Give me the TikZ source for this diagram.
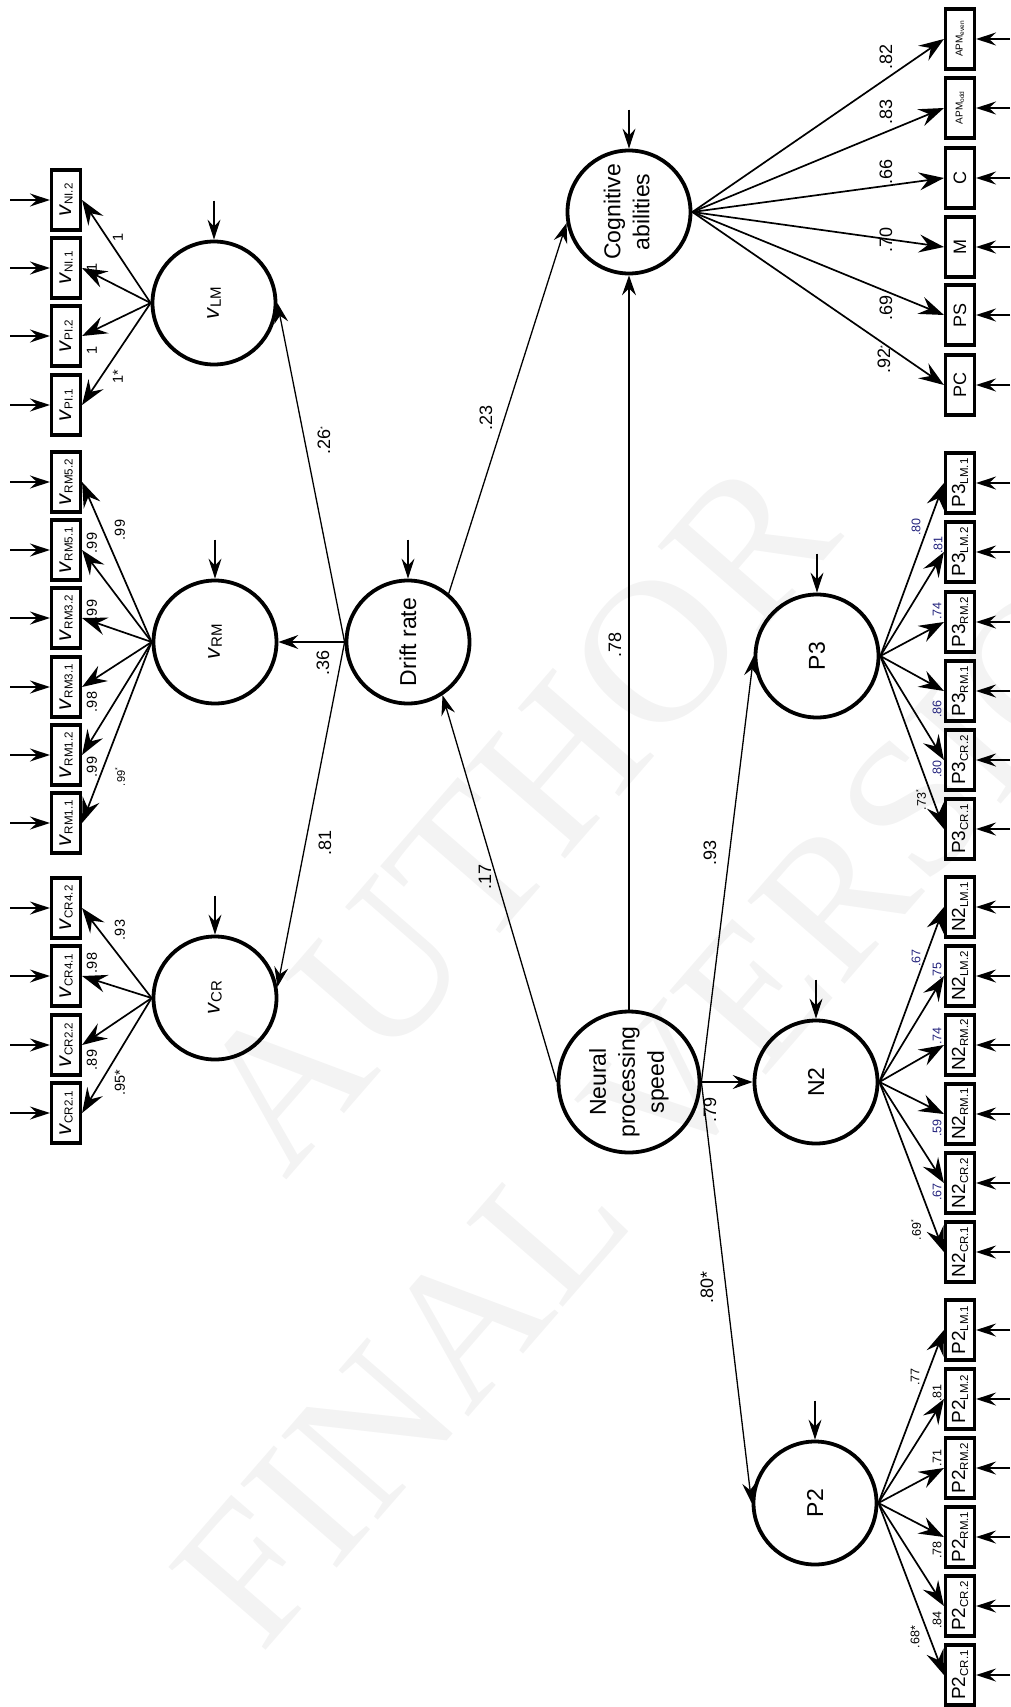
\documentclass[tikz,border=0pt]{standalone}
\usepackage{fontspec}
\setmainfont{Liberation Sans}
\newfontfamily\markfont{Liberation Serif}
\usepackage{graphicx}
\usetikzlibrary{arrows.meta}

\newcommand{\fsz}[1]{\fontsize{#1}{#1}\selectfont}
% drift-rate indicator: italic v with subscript
\newcommand{\vlab}[1]{\fsz{22}\textit{v}\raisebox{-1.5pt}{\fsz{11.6}#1}}
% ERP indicator: component name with subscript
\newcommand{\elab}[2]{\fsz{19}#1\raisebox{-3pt}{\fsz{11.5}#2}}
\newcommand{\sstar}{\raisebox{5pt}{\fsz{7}*}}

\definecolor{loadblue}{RGB}{35,35,125}
\definecolor{markgray}{RGB}{243,243,243}

\tikzset{
  latent/.style={circle, draw, line width=3.8pt, minimum size=123pt, inner sep=0pt},
  obs/.style={rectangle, draw, line width=3.1pt, minimum width=29pt, minimum height=60pt, inner sep=0pt},
  loading/.style={line width=1.7pt, -{Stealth[length=25pt,width=18pt,inset=9pt]}},
  regress/.style={line width=1.3pt, -{Stealth[length=20pt,width=14pt,inset=7pt]}},
  resid/.style={line width=1.4pt, -{Stealth[length=20pt,width=13pt,inset=7pt]}},
  coef/.style={rotate=90, inner sep=0pt},
}

\begin{document}
\begin{tikzpicture}[x=1pt,y=-1pt]
\useasboundingbox (0,0) rectangle (1010,1707);

% watermark
\node[text=markgray, rotate=49, font=\markfont\fsz{205}] (wmA) at (515,815) {AUTHOR};
\node[text=markgray, rotate=49, font=\markfont\fsz{195}] (wmB) at (695,1060) {FINAL VERSION};

% latent variables
\node[latent] (vlm) at (214,303) {\rotatebox{90}{\fsz{22}\textit{v}\raisebox{-2pt}{\fsz{15}LM}}};
\node[latent] (vrm) at (215,642) {\rotatebox{90}{\fsz{22}\textit{v}\raisebox{-2pt}{\fsz{15}RM}}};
\node[latent] (vcr) at (215,998) {\rotatebox{90}{\fsz{22}\textit{v}\raisebox{-2pt}{\fsz{15}CR}}};
\node[latent] (drift) at (408,642) {\rotatebox{90}{\fsz{23}Drift rate}};
\node[latent] (cog) at (629,212) {\rotatebox{90}{\fontsize{23}{29}\selectfont\begin{tabular}{@{}c@{}}Cognitive\\abilities\end{tabular}}};
\node[latent] (nps) at (629,1082) {\rotatebox{90}{\fontsize{23}{29}\selectfont\begin{tabular}{@{}c@{}}Neural\\processing\\speed\end{tabular}}};
\node[latent] (p3) at (817,656) {\rotatebox{90}{\fsz{23}P3}};
\node[latent] (n2) at (816,1082) {\rotatebox{90}{\fsz{23}N2}};
\node[latent] (p2) at (815,1503) {\rotatebox{90}{\fsz{23}P2}};

% residuals of the latent variables
\foreach \n in {vlm,vrm,vcr,drift,cog,p3,n2,p2}{
  \coordinate (\n r) at ([yshift=39pt]\n.north);
  \draw[resid] (\n r) -- (\n.north);
}

% drift-rate indicators
\foreach \n/\y/\t in {nl2/200/NI.2, nl1/268/NI.1, pl2/336/PI.2, pl1/405/PI.1,
  rm52/482/RM5.2, rm51/550/RM5.1, rm32/618/RM3.2, rm31/687/RM3.1, rm12/755/RM1.2, rm11/823/RM1.1,
  cr42/908/CR4.2, cr41/976/CR4.1, cr22/1045/CR2.2, cr21/1113/CR2.1}{
  \node[obs] (\n) at (66,\y) {\rotatebox{90}{\vlab{\t}}};
  \coordinate (\n r) at (10,\y);
  \draw[resid] (\n r) -- (\n.west);
}

% cognitive and ERP indicators
\foreach \n/\y/\t in {
  apme/39/{\fsz{10}APM\raisebox{-1.5pt}{\fsz{6.5}even}}, apmo/108/{\fsz{10}APM\raisebox{-1.5pt}{\fsz{6.5}odd}},
  cc/178/{\fsz{18}C}, mm/247/{\fsz{18}M}, ps/315/{\fsz{18}PS}, pc/385/{\fsz{18}PC},
  pthl1/483/{\elab{P3}{LM.1}}, pthl2/552/{\elab{P3}{LM.2}}, pthr2/622/{\elab{P3}{RM.2}},
  pthr1/691/{\elab{P3}{RM.1}}, pthc2/760/{\elab{P3}{CR.2}}, pthc1/829/{\elab{P3}{CR.1}},
  ntl1/907/{\elab{N2}{LM.1}}, ntl2/976/{\elab{N2}{LM.2}}, ntr2/1045/{\elab{N2}{RM.2}},
  ntr1/1114/{\elab{N2}{RM.1}}, ntc2/1183/{\elab{N2}{CR.2}}, ntc1/1252/{\elab{N2}{CR.1}},
  ptl1/1330/{\elab{P2}{LM.1}}, ptl2/1399/{\elab{P2}{LM.2}}, ptr2/1468/{\elab{P2}{RM.2}},
  ptr1/1537/{\elab{P2}{RM.1}}, ptc2/1606/{\elab{P2}{CR.2}}, ptc1/1675/{\elab{P2}{CR.1}}}{
  \node[obs] (\n) at (960,\y) {\rotatebox{90}{\t}};
  \coordinate (\n r) at (1010,\y);
  \draw[resid] (\n r) -- (\n.east);
}

% factor loadings
\foreach \n in {nl2,nl1,pl2,pl1} \draw[loading] (vlm.west) -- (\n.east);
\foreach \n in {rm52,rm51,rm32,rm31,rm12,rm11} \draw[loading] (vrm.west) -- (\n.east);
\foreach \n in {cr42,cr41,cr22,cr21} \draw[loading] (vcr.west) -- (\n.east);
\foreach \n in {apme,apmo,cc,mm,ps,pc} \draw[loading] (cog.east) -- (\n.west);
\foreach \n in {pthl1,pthl2,pthr2,pthr1,pthc2,pthc1} \draw[loading] (p3.east) -- (\n.west);
\foreach \n in {ntl1,ntl2,ntr2,ntr1,ntc2,ntc1} \draw[loading] (n2.east) -- (\n.west);
\foreach \n in {ptl1,ptl2,ptr2,ptr1,ptc2,ptc1} \draw[loading] (p2.east) -- (\n.west);

% structural paths
\draw[regress] (drift.west) -- (vlm.east);
\draw[regress] (drift.west) -- (vrm.east);
\draw[regress] (drift.west) -- (vcr.10);
\draw[regress] (drift.50) -- (cog.190);
\draw[regress] (nps.west) -- (drift.-57);
\draw[regress] (nps.north) -- (cog.south);
\draw[regress] (nps.east) -- (p3.west);
\draw[regress] (nps.east) -- (n2.west);
\draw[regress] (nps.east) -- (p2.west);

% path coefficients
\foreach \x/\y/\t [count=\i] in {324/441/{.26\sstar}, 323/663/.36, 325/843/.81, 485/877/.17,
  486/418/.23, 615/645/.78, 710/853/.93, 710/1110/.79, 707/1287/.80*,
  886/57/.82, 886/112/.83, 886/172/.66, 886/240/.70, 886/308/.69, 884/360/{.92\sstar}}
  \node[coef, font=\fsz{18}] (s\i) at (\x,\y) {\t};

\foreach \x/\y/\t [count=\i] in {118/237/1, 92/267/1, 92/350/1, 118/377/1*,
  120/530/.99, 92/543/.99, 92/610/.99, 92/702/.98, 92/767/.99,
  120/930/.93, 92/963/.98, 92/1060/.89, 120/1083/.95*}
  \node[coef, font=\fsz{14.5}] (v\i) at (\x,\y) {\t};
\node[coef, font=\fsz{11}] (v14) at (120,777) {.99\sstar};

\foreach \x/\y/\t [count=\i] in {916/527/.80, 938/545/.81, 937/611/.74, 937/709/.86, 937/769/.80,
  916/958/.67, 937/971/.75, 937/1036/.74, 937/1128/.59, 937/1192/.67}
  \node[coef, font=\fsz{12.5}, text=loadblue] (e\i) at (\x,\y) {\t};

\foreach \x/\y/\t [count=\i] in {921/800/{.73\sstar}, 916/1230/{.69\sstar},
  915/1377/.77, 937/1393/.81, 937/1458/.71, 937/1550/.78, 937/1620/.84, 915/1637/.68*}
  \node[coef, font=\fsz{12.5}] (k\i) at (\x,\y) {\t};

\end{tikzpicture}
\end{document}
